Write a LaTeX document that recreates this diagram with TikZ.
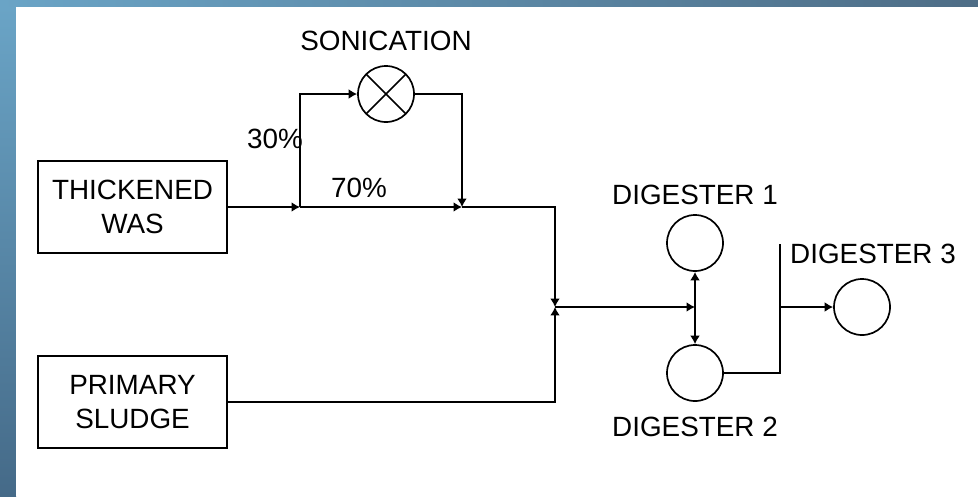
\documentclass[tikz,border=0pt]{standalone}
\usepackage{fontspec}
\setmainfont{Liberation Sans}
\usetikzlibrary{positioning,arrows.meta}

\definecolor{slidelight}{RGB}{106,164,198}
\definecolor{slidedark}{RGB}{78,109,134}
\definecolor{slidedeep}{RGB}{69,106,136}

\begin{document}
\begin{tikzpicture}[
    x=0.025cm, y=-0.025cm,
    font=\fontsize{19.8}{24}\selectfont,
    unit/.style={draw, line width=1.7pt, minimum width=4.725cm, minimum height=2.3cm,
                 align=center, inner sep=0pt},
    tank/.style={draw, circle, line width=1.2pt, minimum size=1.4cm, inner sep=0pt},
    sonic/.style={tank, path picture={
        \draw[line width=1.2pt] (path picture bounding box.north west) -- (path picture bounding box.south east)
                                (path picture bounding box.north east) -- (path picture bounding box.south west);}},
    lab/.style={inner sep=0pt},
    pipe/.style={line width=1.6pt},
    flow/.style={pipe, -{Latex[length=6pt,width=7pt]}},
  ]
    % slide background
    \shade[left color=slidelight, right color=slidedark] (0,0) rectangle (978,7);
    \shade[top color=slidelight, bottom color=slidedeep] (0,7) rectangle (16,496);
    \fill[white] (16,7) rectangle (978,496);
    \useasboundingbox (0,0) rectangle (978,496);

    % feed streams
    \node[unit] (thick) at (132.5,207) {THICKENED\\WAS};
    \node[unit] (primary) at (132.5,402) {PRIMARY\\SLUDGE};

    % sonication loop
    \node[sonic] (sonic) at (386,94) {};
    \node[lab, above=0.35cm of sonic] (soniclab) {SONICATION};

    % digesters
    \node[tank] (dig1) at (695,243) {};
    \node[lab, above=0.24cm of dig1] (dig1lab) {DIGESTER 1};
    \node[tank] (dig2) at (695,373) {};
    \node[lab, below=0.38cm of dig2] (dig2lab) {DIGESTER 2};
    \node[tank] (dig3) at (862,307) {};
    \node[lab] (dig3lab) at (873,254) {DIGESTER 3};

    % split fractions
    \node[lab] (frac30) at (275,139) {30\%};
    \node[lab] (frac70) at (359,188) {70\%};

    % pipe junctions
    \coordinate (split) at (300,207);
    \coordinate (merge) at (462,207);
    \coordinate (corner) at (555,207);
    \coordinate (mix) at (555,307);
    \coordinate (feed) at (695,307);
    \coordinate (riser) at (780,244);
    \coordinate (out) at (780,307);

    \draw[flow] (thick) -- (split);
    \draw[flow] (split) |- (sonic);
    \draw[flow] (sonic) -| (merge);
    \draw[flow] (split) -- (merge);
    \draw[flow] (merge) -- (corner) -- (mix);
    \draw[flow] (primary) -| (mix);
    \draw[flow] (mix) -- (feed);
    \draw[flow] (feed) -- (dig1);
    \draw[flow] (feed) -- (dig2);
    \draw[pipe] (dig2) -| (riser);
    \draw[flow] (out) -- (dig3);
\end{tikzpicture}
\end{document}
